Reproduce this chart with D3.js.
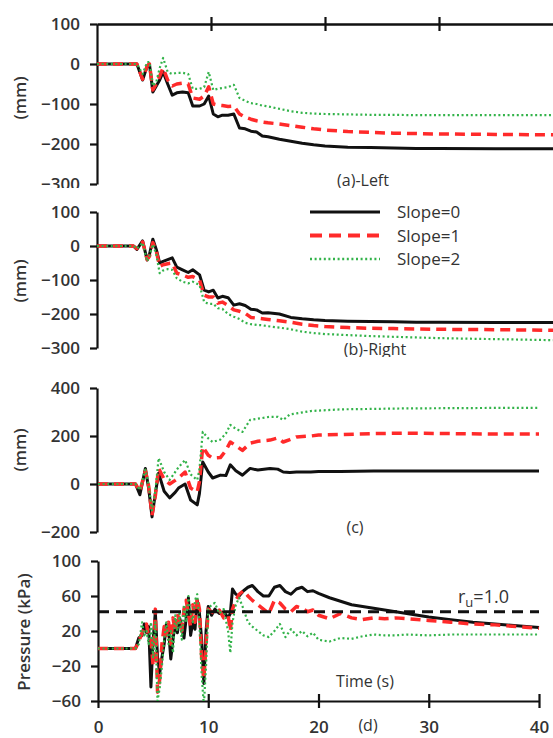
<!DOCTYPE html>
<html>
<head>
<meta charset="utf-8">
<script src="https://cdn.jsdelivr.net/npm/d3@7"></script>
<style>
  body { margin: 0; background: #fff; }
  text { font-family: "Open Sans", sans-serif; fill: #333; font-weight: 600; }
</style>
</head>
<body>
<div id="plot"></div>
<script>
// Legend names for the three cases
var seriesNames = ["Slope=0", "Slope=1", "Slope=2"];

// Time (s) for panels (a) and (b)
var timeAB = [0, 3.2, 3.5, 4.0, 4.4, 4.6, 4.9, 5.2, 5.5, 5.8, 6.2, 6.6, 7.0, 7.5, 8.0, 8.4, 9.0, 9.4, 9.8, 10.2,
  10.6, 11.0, 11.5, 12.0, 12.5, 13.0, 13.5, 14.0, 14.5, 15.0, 16, 17, 18, 19, 20, 22, 24, 26, 28, 30, 35, 40];

// (a)-Left settlement (mm)
var leftSlope0 = [0, 0, 0, -40, -5, 0, -70, -55, -40, -20, -50, -78, -72, -70, -72, -105, -105, -100, -80, -125,
  -132, -128, -128, -125, -160, -162, -168, -170, -180, -182, -188, -193, -198, -202, -205, -208, -209, -210, -211, -211, -212, -212];
var leftSlope1 = [0, 0, 0, -38, -5, 0, -65, -50, -30, -10, -40, -55, -50, -48, -50, -85, -88, -80, -57, -100,
  -103, -104, -106, -105, -125, -133, -138, -142, -145, -147, -150, -154, -158, -162, -165, -169, -171, -173, -174, -175, -176, -177];
var leftSlope2 = [0, 0, 0, -25, 5, 5, -55, -45, -10, 15, -20, -25, -22, -22, -25, -62, -62, -58, -20, -65,
  -62, -60, -58, -52, -85, -92, -98, -100, -104, -106, -112, -118, -122, -124, -125, -126, -127, -127, -128, -128, -128, -128];

// (b)-Right settlement (mm)
var rightSlope0 = [0, 0, -10, 15, -41, -25, 20, -10, -50, -45, -40, -35, -62, -70, -78, -70, -85, -130, -135, -130,
  -153, -148, -152, -174, -170, -175, -186, -188, -197, -196, -200, -210, -214, -217, -219, -221, -222, -223, -224, -224, -225, -225];
var rightSlope1 = [0, 0, -8, 12, -40, -30, 10, -15, -60, -55, -52, -50, -80, -85, -92, -90, -100, -145, -150, -150,
  -168, -165, -175, -188, -192, -198, -210, -212, -214, -216, -220, -224, -230, -234, -237, -240, -242, -243, -244, -245, -246, -248];
var rightSlope2 = [0, 0, -8, 10, -45, -30, 5, -25, -80, -72, -68, -70, -95, -105, -110, -105, -115, -165, -170, -170,
  -183, -185, -200, -208, -215, -226, -230, -232, -233, -236, -240, -245, -252, -256, -259, -262, -265, -267, -269, -271, -274, -277];

// Time (s) for panel (c)
var timeC = [0, 3.4, 3.8, 4.3, 4.6, 4.9, 5.2, 5.5, 6.0, 6.5, 7.0, 7.3, 7.9, 8.4, 9.0, 9.2, 9.5, 10.0, 10.4, 11.1,
  11.6, 12.0, 12.5, 13.1, 13.8, 14.5, 15.6, 16.3, 16.8, 17.4, 18.0, 19.3, 20, 22, 25, 28, 32, 36, 40];

// (c) differential value (mm)
var diffSlope0 = [0, 0, -45, 65, -20, -137, -40, 45, -30, -58, -35, -17, 0, -67, -87, -40, 92, 50, 25, 37,
  35, 80, 55, 37, 65, 58, 65, 62, 50, 48, 50, 50, 52, 52, 54, 54, 54, 54, 54];
var diffSlope1 = [0, 0, -30, 55, -10, -130, -50, 65, 20, 0, 15, 25, 50, -17, -33, 10, 155, 120, 108, 110,
  140, 175, 160, 140, 170, 178, 183, 192, 175, 185, 196, 200, 204, 206, 210, 212, 210, 208, 208];
var diffSlope2 = [0, 0, -25, 60, -5, -110, -30, 108, 50, 17, 50, 70, 100, 40, 17, 60, 217, 190, 175, 185,
  210, 246, 230, 217, 267, 272, 280, 280, 267, 290, 294, 304, 306, 311, 313, 315, 316, 317, 317];

// Time (s) for panel (d)
var timeD = [0, 3.4, 3.7, 4.0, 4.2, 4.4, 4.6, 4.8, 5.0, 5.2, 5.4, 5.6, 5.8, 6.0, 6.2, 6.4, 6.6, 6.8, 7.0, 7.2,
  7.4, 7.6, 7.8, 8.0, 8.2, 8.4, 8.6, 8.8, 9.0, 9.2, 9.4, 9.6, 9.8, 10.0, 10.3, 10.6, 11.0, 11.4, 11.8, 12.0,
  12.2, 12.5, 12.8, 13.2, 13.6, 14.0, 14.5, 15.0, 15.5, 16.0, 16.5, 17.0, 17.5, 18.0, 18.5, 19.0, 19.5, 20.0, 21, 22,
  23, 24, 25, 26, 27, 28, 30, 32, 34, 36, 38, 40];

// (d) pore pressure (kPa)
var pressSlope0 = [0, 0, 12, 15, 28, 18, 25, -44, 10, 42, -10, -28, -10, 5, 28, 22, -12, 10, 30, 18,
  35, 25, 12, 35, 58, 15, 30, 22, 55, 40, 10, -40, 20, 48, 38, 45, 40, 42, 35, 40,
  68, 62, 60, 66, 70, 72, 65, 60, 60, 70, 72, 65, 62, 68, 70, 65, 66, 63, 58, 54,
  50, 48, 46, 44, 42, 40, 36, 33, 30, 28, 26, 24];
var pressSlope1 = [0, 0, 8, 18, 22, 28, 12, 10, -20, 45, -50, -35, 5, 25, 15, 30, 5, 35, 20, 40,
  30, 20, 45, 55, 40, 25, 50, 30, 58, 45, -10, -35, 5, 45, 42, 40, 44, 35, 38, 20,
  45, 55, 62, 66, 60, 55, 50, 45, 40, 55, 52, 45, 42, 48, 46, 42, 44, 38, 34, 40,
  35, 33, 35, 34, 35, 34, 32, 30, 28, 27, 25, 23];
var pressSlope2 = [0, 0, 5, 30, 15, 20, 5, 30, -10, 30, -60, -45, -20, 10, 30, 5, 20, -5, 38, 20,
  40, 10, 50, 30, 60, 40, 30, 55, 62, 30, -30, -65, -20, 45, 50, 52, 40, 45, 20, -5,
  30, 50, 58, 45, 30, 25, 20, 15, 13, 20, 28, 13, 22, 15, 20, 14, 18, 10, 8, 12,
  11, 14, 16, 15, 15, 16, 15, 16, 16, 16, 16, 16];

// r_u = 1.0 reference level (kPa)
var ruLevel = 42;

// Tick values
var xTicks = [0, 10, 20, 30, 40];
var ticksAB = [100, 0, -100, -200, -300];
var ticksC = [400, 200, 0, -200];
var ticksD = [100, 60, 20, -20, -60];

// Define SVG area dimensions
var svgWidth = 553;
var svgHeight = 738;

var svg = d3.select("#plot")
  .append("svg")
  .attr("width", svgWidth)
  .attr("height", svgHeight);

// line styles for the three series
var styles = [
  { color: "#111", width: 3, dash: null },
  { color: "#ff2a2a", width: 3.5, dash: "10,6" },
  { color: "#33b34a", width: 2.2, dash: "2,2.6" }
];

// x scales (top two panels are a bit wider in the picture)
var xAB = d3.scaleLinear().domain([0, 40]).range([97, 553]);
var xCD = d3.scaleLinear().domain([0, 40]).range([98, 539]);

// y scales
var yA = d3.scaleLinear().domain([-300, 100]).range([184, 24]);
var yB = d3.scaleLinear().domain([-300, 100]).range([348, 212]);
var yC = d3.scaleLinear().domain([-200, 400]).range([532, 388]);
var yD = d3.scaleLinear().domain([-60, 100]).range([701, 561]);

// clip regions (panels are cut off at their bottom edge)
var defs = svg.append("defs");
defs.append("clipPath").attr("id", "clipA")
  .append("rect").attr("x", 0).attr("y", 0).attr("width", svgWidth).attr("height", 188);
defs.append("clipPath").attr("id", "clipB")
  .append("rect").attr("x", 0).attr("y", 189).attr("width", svgWidth).attr("height", 168);
defs.append("clipPath").attr("id", "clipD")
  .append("rect").attr("x", xCD(0)).attr("y", yD(100) - 5).attr("width", 460).attr("height", yD(-60) - yD(100) + 5);

function drawSeries(group, xScale, yScale, times, seriesList) {
  seriesList.forEach(function(values, i) {
    var line = d3.line()
      .x(function(d, j) { return xScale(times[j]); })
      .y(function(d) { return yScale(d); });
    group.append("path")
      .datum(values)
      .attr("fill", "none")
      .attr("stroke", styles[i].color)
      .attr("stroke-width", styles[i].width)
      .attr("stroke-dasharray", styles[i].dash)
      .attr("stroke-linejoin", "round")
      .attr("d", line);
  });
}

function drawYAxis(group, yScale, ticks, xPos) {
  var axis = d3.axisLeft(yScale)
    .tickValues(ticks)
    .tickSize(7)
    .tickSizeOuter(0)
    .tickPadding(10);
  var g = group.append("g")
    .attr("transform", `translate(${xPos}, 0)`)
    .call(axis);
  g.select(".domain").attr("stroke", "#111").attr("stroke-width", 2.2);
  g.selectAll(".tick line").attr("stroke", "#111").attr("stroke-width", 2.2);
  g.selectAll(".tick text")
    .style("font-size", "17px")
    .style("font-family", "'Open Sans', sans-serif")
    .attr("fill", "#333");
  return g;
}

function styleXAxis(g) {
  g.select(".domain").attr("stroke", "#111").attr("stroke-width", 2.2);
  g.selectAll(".tick line").attr("stroke", "#111").attr("stroke-width", 2.2);
}

function yLabel(text, x, y) {
  svg.append("text")
    .attr("transform", `translate(${x}, ${y}) rotate(-90)`)
    .attr("text-anchor", "middle")
    .style("font-size", "17px")
    .text(text);
}

// ---------- panel (a) ----------
var panelA = svg.append("g").attr("clip-path", "url(#clipA)");

var topAxisA = panelA.append("g")
  .attr("transform", `translate(0, ${yA(100)})`)
  .call(d3.axisBottom(xAB).tickValues([10, 20, 30]).tickSize(7).tickSizeOuter(0).tickFormat(""));
styleXAxis(topAxisA);
var topAxisA2 = panelA.append("g")
  .attr("transform", `translate(0, ${yA(100)})`)
  .call(d3.axisTop(xAB).tickValues([10, 20, 30]).tickSize(7).tickSizeOuter(0).tickFormat(""));
styleXAxis(topAxisA2);

drawYAxis(panelA, yA, ticksAB, xAB(0));
drawSeries(panelA, xAB, yA, timeAB, [leftSlope0, leftSlope1, leftSlope2]);

panelA.append("text")
  .attr("x", 363).attr("y", 186)
  .attr("text-anchor", "middle")
  .style("font-size", "16px")
  .style("font-weight", "normal")
  .text("(a)-Left");

yLabel("(mm)", 26, 98);

// ---------- panel (b) ----------
var panelB = svg.append("g").attr("clip-path", "url(#clipB)");
drawYAxis(panelB, yB, ticksAB, xAB(0));
drawSeries(panelB, xAB, yB, timeAB, [rightSlope0, rightSlope1, rightSlope2]);

panelB.append("text")
  .attr("x", 375).attr("y", 355)
  .attr("text-anchor", "middle")
  .style("font-size", "16px")
  .style("font-weight", "normal")
  .text("(b)-Right");

yLabel("(mm)", 26, 281);

// legend
var legend = svg.append("g");
seriesNames.forEach(function(name, i) {
  var ly = 212 + i * 23.5;
  legend.append("line")
    .attr("x1", 310).attr("x2", 380)
    .attr("y1", ly).attr("y2", ly)
    .attr("stroke", styles[i].color)
    .attr("stroke-width", i == 0 ? 3.2 : styles[i].width + 0.5)
    .attr("stroke-dasharray", i == 1 ? "12,7" : styles[i].dash);
  legend.append("text")
    .attr("x", 397).attr("y", ly + 6)
    .style("font-size", "17px")
    .style("font-weight", "normal")
    .text(name);
});

// ---------- panel (c) ----------
var panelC = svg.append("g");
drawYAxis(panelC, yC, ticksC, xCD(0) - 1);
drawSeries(panelC, xCD, yC, timeC, [diffSlope0, diffSlope1, diffSlope2]);

panelC.append("text")
  .attr("x", 355).attr("y", 533)
  .attr("text-anchor", "middle")
  .style("font-size", "16px")
  .style("font-weight", "normal")
  .text("(c)");

yLabel("(mm)", 26, 450);

// ---------- panel (d) ----------
var panelD = svg.append("g");
drawYAxis(panelD, yD, ticksD, xCD(0));

var xAxisD = panelD.append("g")
  .attr("transform", `translate(0, ${yD(-60)})`)
  .call(d3.axisBottom(xCD).tickValues(xTicks).tickSize(7).tickSizeOuter(0).tickPadding(13));
styleXAxis(xAxisD);
xAxisD.selectAll(".tick text")
  .style("font-size", "17px")
  .style("font-family", "'Open Sans', sans-serif")
  .attr("fill", "#333");
var xAxisD2 = panelD.append("g")
  .attr("transform", `translate(0, ${yD(-60)})`)
  .call(d3.axisTop(xCD).tickValues(xTicks.slice(1)).tickSize(7).tickSizeOuter(0).tickFormat(""));
styleXAxis(xAxisD2);
xAxisD2.select(".domain").remove();

var linesD = panelD.append("g").attr("clip-path", "url(#clipD)");
drawSeries(linesD, xCD, yD, timeD, [pressSlope0, pressSlope1, pressSlope2]);

// r_u = 1.0 line
panelD.append("line")
  .attr("x1", xCD(0)).attr("x2", xCD(40))
  .attr("y1", yD(ruLevel)).attr("y2", yD(ruLevel))
  .attr("stroke", "#111")
  .attr("stroke-width", 3)
  .attr("stroke-dasharray", "11,7");

var ruText = panelD.append("text")
  .attr("x", 458).attr("y", 603)
  .style("font-size", "18px")
  .style("font-weight", "normal");
ruText.append("tspan").text("r");
ruText.append("tspan").attr("dy", 4).style("font-size", "13px").text("u");
ruText.append("tspan").attr("dy", -4).text("=1.0");

panelD.append("text")
  .attr("x", 365).attr("y", 687)
  .attr("text-anchor", "middle")
  .style("font-size", "16px")
  .style("font-weight", "normal")
  .text("Time (s)");

panelD.append("text")
  .attr("x", 368).attr("y", 731)
  .attr("text-anchor", "middle")
  .style("font-size", "16px")
  .style("font-weight", "normal")
  .text("(d)");

yLabel("Pressure (kPa)", 30, 632);
</script>
</body>
</html>
